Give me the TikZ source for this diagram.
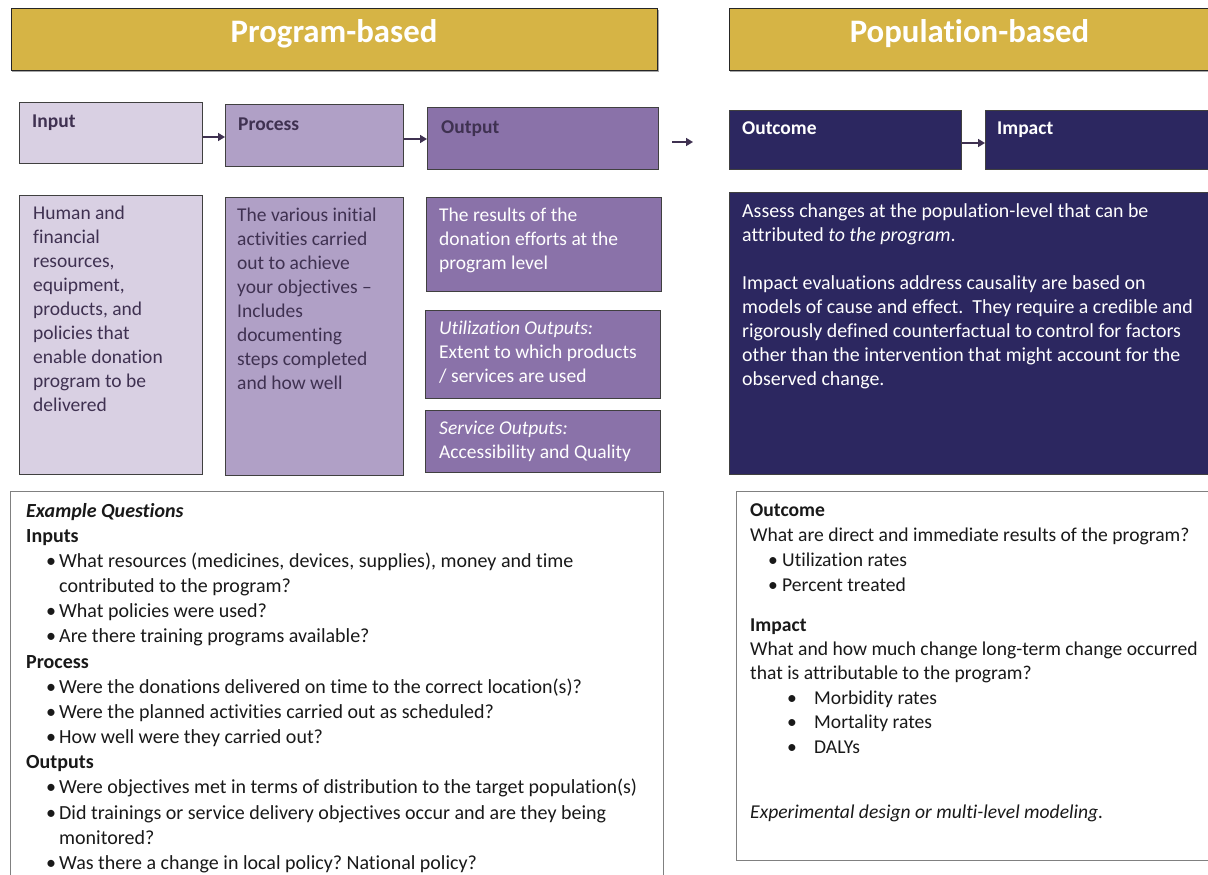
\documentclass[tikz,border=0pt]{standalone}
\usepackage{fontspec}
\setmainfont[Ligatures=NoCommon]{Carlito}
\usetikzlibrary{arrows.meta}

\definecolor{gold}{HTML}{D6B445}
\definecolor{lilacA}{HTML}{D9D0E3}
\definecolor{lilacB}{HTML}{B0A0C6}
\definecolor{lilacC}{HTML}{8A72A9}
\definecolor{navy}{HTML}{2C2760}
\definecolor{plum}{HTML}{3F3151}
\definecolor{edge}{HTML}{404040}

% bullet lines for the question lists
\newcommand\qitem[3]{\hspace*{#1pt}\makebox[#2pt][l]{\textbullet}#3}
\newcommand\qcont[2]{\hspace*{#1pt}#2}

\tikzset{
  box/.style={draw=edge, line width=0.8pt, anchor=north west, inner sep=0pt},
  head/.style={box, fill=gold, draw=black!85},
  hshade/.style={fill=black!35},
  htxt/.style={anchor=base, inner sep=0pt, text=white,
               font=\fontsize{32.8}{38}\selectfont\bfseries},
  lbl/.style={anchor=base west, inner sep=0pt,
              font=\fontsize{19.5}{24}\selectfont\bfseries},
  body/.style={anchor=north west, inner sep=0pt, align=left,
               font=\fontsize{19.5}{24}\selectfont},
  qbox/.style={draw=black!50, line width=1.2pt, fill=white,
               anchor=north west, inner sep=0pt},
  qtxt/.style={anchor=north west, inner sep=0pt, align=left, text=black!90},
  flow/.style={draw=plum, line width=1.6pt,
               -{Triangle[length=7pt,width=8pt]}},
}

\begin{document}
\begin{tikzpicture}[x=1pt, y=-1pt]
\clip (0,0) rectangle (1208,875);
\fill[white] (0,0) rectangle (1208,875);

% --- column headers (with a faint shadow under each)
\fill[hshade] (12,10) rectangle (658.5,72);
\fill[hshade] (730,10) rectangle (1212,72);
\node[head, minimum width=646, minimum height=62] (progH) at (11,8) {};
\node[htxt] (progT) at (334,43) {Program-based};
\node[head, minimum width=481, minimum height=62] (popH) at (729,8) {};
\node[htxt] (popT) at (969.5,43) {Population-based};

% --- logic model stages
\node[box, fill=lilacA, minimum width=183, minimum height=61] (inB) at (19,102) {};
\node[lbl, text=plum] (inL) at (32,128) {Input};
\node[box, fill=lilacB, minimum width=178, minimum height=62] (prB) at (225,104) {};
\node[lbl, text=plum] (prL) at (238,130) {Process};
\node[box, fill=lilacC, minimum width=231, minimum height=62] (ouB) at (427,107) {};
\node[lbl, text=plum] (ouL) at (441,133) {Output};
\node[box, fill=navy, minimum width=232, minimum height=59] (ocB) at (729,110) {};
\node[lbl, text=white] (ocL) at (742,134) {Outcome};
\node[box, fill=navy, minimum width=225, minimum height=59] (imB) at (985,110) {};
\node[lbl, text=white] (imL) at (997,134) {Impact};

\draw[flow] (inB.east |- 0,137) -- (prB.west |- 0,137);
\draw[flow] (prB.east |- 0,139) -- (ouB.west |- 0,139);
\coordinate (gapL) at (672,142);
\coordinate (gapR) at (693,142);
\draw[flow] (gapL) -- (gapR);
\draw[flow] (ocB.east |- 0,143) -- (imB.west |- 0,143);

% --- stage descriptions
\node[box, fill=lilacA, minimum width=183, minimum height=279] (inD) at (19,195) {};
\node[body, text=plum] (inDT) at (33,202.2) {\strut Human and\\financial\\resources,\\equipment,\\products, and\\policies that\\enable donation\\program to be\\delivered};

\node[box, fill=lilacB, minimum width=178, minimum height=278] (prD) at (225,197) {};
\node[body, text=plum] (prDT) at (237,204.2) {\strut The various initial\\activities carried\\out to achieve\\your objectives --\\Includes\\documenting\\steps completed\\and how well};

\node[box, fill=lilacC, minimum width=235, minimum height=94] (ouD) at (426,197) {};
\node[body, text=white] (ouDT) at (439,204.2) {\strut The results of the\\donation efforts at the\\program level};

\node[box, fill=lilacC, minimum width=235, minimum height=88] (utD) at (425,310) {};
\node[body, text=white] (utDT) at (439,317.2) {\strut\textit{Utilization Outputs:}\\Extent to which products\\/ services are used};

\node[box, fill=lilacC, minimum width=235, minimum height=62] (svD) at (425,410) {};
\node[body, text=white] (svDT) at (439,417.2) {\strut\textit{Service Outputs:}\\Accessibility and Quality};

\node[box, fill=navy, minimum width=481, minimum height=282] (popD) at (729,192) {};
\node[body, text=white, font=\fontsize{19.9}{24}\selectfont] (popDT) at (742,200.2) {\strut Assess changes at the population-level that can be\\attributed \textit{to the program}.\\\strut\\Impact evaluations address causality are based on\\models of cause and effect.\ \ They require a credible and\\rigorously defined counterfactual to control for factors\\other than the intervention that might account for the\\observed change.};

% --- example questions
\node[qbox, minimum width=653, minimum height=400] (exQ) at (10,491) {};
\node[qtxt, font=\fontsize{20}{25.15}\selectfont] (exQT) at (26,499.4) {\strut\textbf{\textit{Example Questions}}\\
\textbf{Inputs}\\
\qitem{20}{13}{What resources (medicines, devices, supplies), money and time}\\
\qcont{33}{contributed to the program?}\\
\qitem{20}{13}{What policies were used?}\\
\qitem{20}{13}{Are there training programs available?}\\
\textbf{Process}\\
\qitem{20}{13}{Were the donations delivered on time to the correct location(s)?}\\
\qitem{20}{13}{Were the planned activities carried out as scheduled?}\\
\qitem{20}{13}{How well were they carried out?}\\
\textbf{Outputs}\\
\qitem{20}{13}{Were objectives met in terms of distribution to the target population(s)}\\
\qitem{20}{13}{Did trainings or service delivery objectives occur and are they being}\\
\qcont{33}{monitored?}\\
\qitem{20}{13}{Was there a change in local policy?\ National policy?}};

\node[qbox, minimum width=474, minimum height=369] (popQ) at (736,491) {};
\node[qtxt, font=\fontsize{19.6}{25}\selectfont] (ocQT) at (750,498.5) {\strut\textbf{Outcome}\\
What are direct and immediate results of the program?\\
\qitem{18}{14}{Utilization rates}\\
\qitem{18}{14}{Percent treated}};
\node[qtxt, font=\fontsize{19.6}{24.4}\selectfont] (imQT) at (750,613.9) {\strut\textbf{Impact}\\
What and how much change long-term change occurred\\
that is attributable to the program?\\
\qitem{37}{27}{Morbidity rates}\\
\qitem{37}{27}{Mortality rates}\\
\qitem{37}{27}{DALYs}};
\node[qtxt, anchor=base west, font=\fontsize{19.6}{24}\selectfont\itshape] (dsQT) at (750,818) {Experimental design or multi-level modeling.};
\end{tikzpicture}
\end{document}
